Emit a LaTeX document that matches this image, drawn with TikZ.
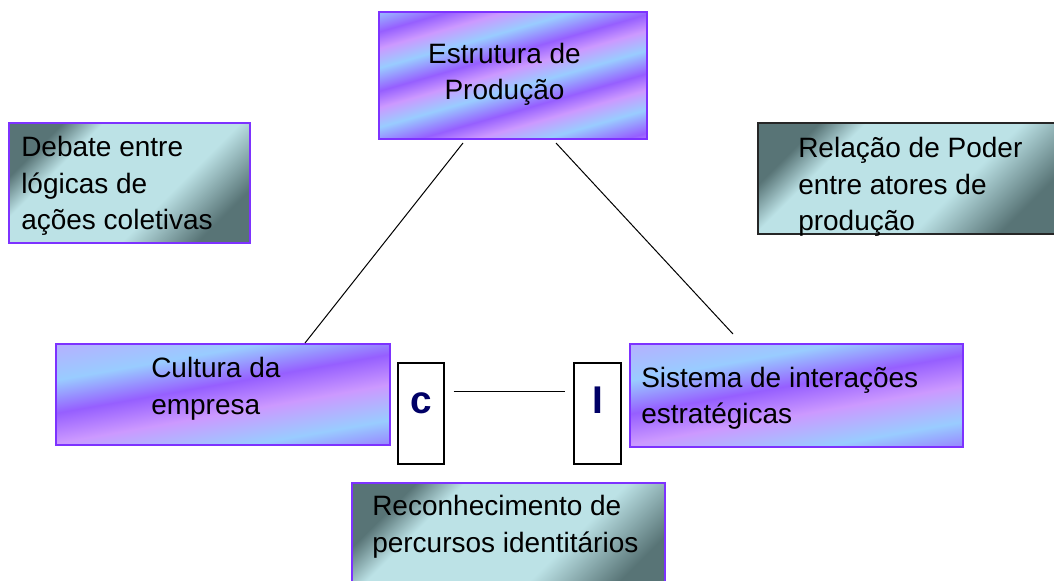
\documentclass[tikz,border=0pt]{standalone}
\usepackage{fontspec}
\setmainfont{Liberation Sans}
\usetikzlibrary{positioning}

\definecolor{stripeblue}{RGB}{153,204,255}
\definecolor{stripeviolet}{RGB}{150,95,255}
\definecolor{stripelilac}{RGB}{204,153,255}
\definecolor{boxedge}{RGB}{125,50,255}
\definecolor{tealdark}{RGB}{88,116,118}
\definecolor{teallight}{RGB}{188,226,230}
\definecolor{letterblue}{RGB}{0,0,102}

\pgfdeclarehorizontalshading{stripes}{100bp}{color(0bp)=(stripeblue); color(7bp)=(stripeviolet); color(12bp)=(stripelilac); color(18bp)=(stripeblue); color(25bp)=(stripeviolet); color(30bp)=(stripelilac); color(36bp)=(stripeblue); color(43bp)=(stripeviolet); color(48bp)=(stripelilac); color(54bp)=(stripeblue); color(61bp)=(stripeviolet); color(66bp)=(stripelilac); color(72bp)=(stripeblue); color(79bp)=(stripeviolet); color(84bp)=(stripelilac); color(90bp)=(stripeblue); color(97bp)=(stripeviolet); color(100bp)=(stripelilac)}
\pgfdeclarehorizontalshading{widestripes}{100bp}{color(0bp)=(stripeviolet); color(10bp)=(stripelilac); color(22bp)=(stripelilac!50!stripeblue); color(34bp)=(stripeblue); color(46bp)=(stripeviolet); color(57bp)=(stripelilac); color(70bp)=(stripeblue); color(84bp)=(stripeviolet); color(94bp)=(stripelilac); color(100bp)=(stripelilac)}
\pgfdeclarehorizontalshading{tealglow}{100bp}{color(0bp)=(tealdark); color(25bp)=(tealdark); color(33bp)=(teallight); color(60bp)=(teallight); color(75bp)=(tealdark); color(100bp)=(tealdark)}

\begin{document}
\begin{tikzpicture}[x=0.75pt, y=-0.75pt,
    every node/.style={inner sep=0pt},
    txt/.style={font=\fontsize{21}{27.4}\selectfont, align=left, anchor=base west},
    stripebox/.style={draw=boxedge, line width=1.5pt, shade, shading=stripes, shading angle=-74},
    widebox/.style={stripebox, shading=widestripes, shading angle=-80},
    tealbox/.style={draw=boxedge, line width=1.5pt, shade, shading=tealglow, shading angle=-45},
    letterbox/.style={draw, line width=1.1pt, fill=white, minimum width=34.5pt, minimum height=75.75pt,
        text height=1em, text depth=1em, font=\fontsize{29}{32}\selectfont\bfseries, text=letterblue},
    link/.style={line width=0.75pt}
]
    \useasboundingbox (0,0) rectangle (1054,581);

    % caixas
    \node[stripebox, minimum width=201pt, minimum height=95.25pt] (prod) at (513,75.5) {};
    \node[tealbox, minimum width=180.75pt, minimum height=90pt] (debate) at (129.5,183) {};
    \node[tealbox, draw=black!85, minimum width=226.5pt, minimum height=83.25pt] (poder) at (909,178.5) {};
    \node[widebox, minimum width=250.5pt, minimum height=75.75pt] (cultura) at (223,394.5) {};
    \node[widebox, minimum width=249.75pt, minimum height=77.25pt] (sistema) at (796.5,395.5) {};
    \node[tealbox, minimum width=234.75pt, minimum height=87.75pt] (reconh) at (508.5,541.5) {};
    \node[letterbox] (cbox) at (421,413.5) {c};
    \node[letterbox, minimum width=35.25pt] (ibox) at (597.5,413.5) {I};

    % textos (base = linha de baixo)
    \node[txt, align=center, anchor=base] (prodtxt) at (504.5,100) {Estrutura de\\Produção};
    \node[txt] (debatetxt) at (21,230) {Debate entre\\lógicas de\\ações coletivas};
    \node[txt] (podertxt) at (798,230.7) {Relação de Poder\\entre atores de\\produção};
    \node[txt] (culturatxt) at (151,414.5) {Cultura da\\empresa};
    \node[txt] (sistematxt) at (641,423.8) {Sistema de interações\\estratégicas};
    \node[txt] (reconhtxt) at (372,552.2) {Reconhecimento de\\percursos identitários};

    % ligações
    \draw[link] ([shift={(-50,3)}]prod.south) -- ([shift={(82,0)}]cultura.north);
    \draw[link] ([shift={(43,3)}]prod.south) -- ([shift={(-63.5,-9)}]sistema.north);
    \draw[link] ([shift={(9,-22.5)}]cbox.east) -- ([shift={(-8,-22.5)}]ibox.west);
\end{tikzpicture}
\end{document}
